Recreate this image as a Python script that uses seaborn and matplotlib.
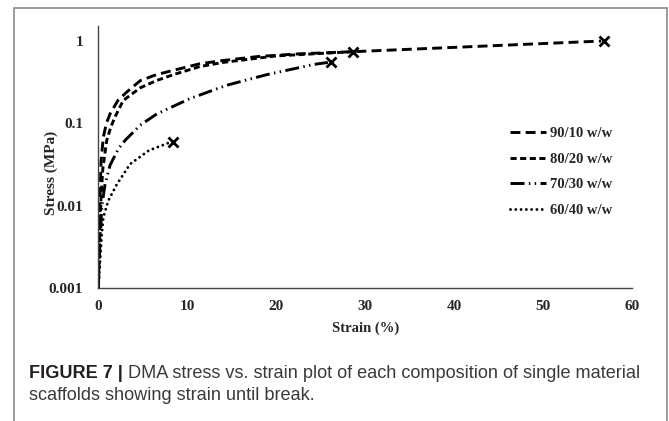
import matplotlib
matplotlib.use('Agg')
import matplotlib.pyplot as plt
from matplotlib.patches import Rectangle
import seaborn as sns

##################################################################################
# data (strain in %, stress in MPa)
##################################################################################
LABELS = ['90/10 w/w', '80/20 w/w', '70/30 w/w', '60/40 w/w']

STRAIN_90 = [0, 0.1, 0.19, 0.3, 0.56, 0.9, 1.31, 2.2, 3.19, 4.7, 6.5, 8.4, 11.4, 14.0,
             18.0, 22.6, 28.3, 56.5]
STRESS_90 = [0.001, 0.004, 0.012, 0.034, 0.068, 0.10, 0.13, 0.19, 0.24, 0.33, 0.39,
             0.44, 0.53, 0.58, 0.65, 0.70, 0.74, 1.0]

STRAIN_80 = [0, 0.15, 0.3, 0.5, 0.94, 1.4, 1.88, 2.8, 4.7, 6.5, 8.4, 11.4, 14.0, 20.0,
             28.3]
STRESS_80 = [0.001, 0.005, 0.012, 0.028, 0.062, 0.09, 0.12, 0.19, 0.27, 0.33, 0.39,
             0.49, 0.55, 0.66, 0.74]

STRAIN_70 = [0, 0.2, 0.4, 0.75, 1.31, 2.25, 3.0, 4.7, 6.56, 10.3, 14.4, 18.9, 24.2,
             25.8]
STRESS_70 = [0.001, 0.004, 0.01, 0.018, 0.031, 0.049, 0.062, 0.095, 0.13, 0.20, 0.29,
             0.39, 0.52, 0.55]

STRAIN_60 = [0, 0.19, 0.38, 0.56, 1.12, 2.06, 3.56, 5.7, 8.1]
STRESS_60 = [0.001, 0.0021, 0.0045, 0.0072, 0.0115, 0.018, 0.032, 0.047, 0.059]

X_TICKS = [0, 10, 20, 30, 40, 50, 60]
Y_TICKS = [0.001, 0.01, 0.1, 1]
Y_TICK_LABELS = ['0.001', '0.01', '0.1', '1']

CAPTION_BOLD = 'FIGURE 7 |'
CAPTION_1 = ' DMA stress vs. strain plot of each composition of single material'
CAPTION_2 = 'scaffolds showing strain until break.'

##################################################################################
# plotting
##################################################################################
sns.set_style('white')
plt.rcParams['font.family'] = ['Liberation Serif', 'DejaVu Serif']

fig = plt.figure(figsize=(6.69, 4.21), dpi=100)
ax = fig.add_axes([0.147, 0.316, 0.798, 0.622])

series = [(STRAIN_90, STRESS_90), (STRAIN_80, STRESS_80),
          (STRAIN_70, STRESS_70), (STRAIN_60, STRESS_60)]
line_styles = [(0, (3.4, 1.8)), (0, (2.1, 1.2)), (0, (4.8, 1.5, 0.5, 1.5, 0.5, 1.5)),
               (0, (0.01, 1.8))]
lw = 2.1

for (sx, sy), lab, ls in zip(series, LABELS, line_styles):
    sns.lineplot(x=sx, y=sy, ax=ax, color='black', linewidth=lw, linestyle=ls,
                 label=lab, dash_capstyle='round' if ls[1][0] < 0.1 else 'butt',
                 sort=False)
    # break point marker
    ax.plot(sx[-1] + 0.3, sy[-1], marker='x', color='black', markersize=6.5,
            markeredgewidth=2.0, linestyle='none')

ax.set_yscale('log')
ax.set_xlim(0, 60)
ax.set_ylim(0.001, 1.52)
ax.set_xticks(X_TICKS)
ax.set_yticks(Y_TICKS)
ax.set_yticklabels(Y_TICK_LABELS)
ax.minorticks_off()

for s in ['top', 'right']:
    ax.spines[s].set_visible(False)
for s in ['left', 'bottom']:
    ax.spines[s].set_color('#444444')
    ax.spines[s].set_linewidth(1.0)

ax.tick_params(axis='x', direction='in', length=4, width=1.0, color='#444444',
               pad=9, labelsize=11)
ax.tick_params(axis='y', length=0, pad=11, labelsize=11)
for t in ax.get_xticklabels() + ax.get_yticklabels():
    t.set_fontweight('bold')

ax.set_xlabel('Strain (%)', fontsize=10.5, fontweight='bold', labelpad=6)
ax.set_ylabel('Stress (MPa)', fontsize=11, fontweight='bold', labelpad=0)
ax.yaxis.set_label_coords(-0.075, 0.44)

leg = ax.legend(loc='upper left', bbox_to_anchor=(0.742, 0.73),
                bbox_transform=fig.transFigure, frameon=False,
                prop={'family': 'Liberation Serif', 'weight': 'bold', 'size': 10.5},
                handlelength=2.5, handletextpad=0.3, labelspacing=0.85)

# outer frame around figure and caption
fig.add_artist(Rectangle((13.5 / 669, -0.02), (667 - 13.5) / 669, 1 - 8 / 421 + 0.02,
                         transform=fig.transFigure, fill=False,
                         edgecolor='#8a8a8a', linewidth=1.2))

cap_size = 13.1
t1 = fig.text(29 / 669, 1 - 373 / 421, CAPTION_BOLD, family='Liberation Sans',
              fontweight='bold', fontsize=cap_size, va='center', color='#231f20')
ax.annotate(CAPTION_1, xy=(1, 0.5), xycoords=t1, va='center', ha='left',
            family='Liberation Sans', fontsize=cap_size, color='#3a3a3a',
            annotation_clip=False)
fig.text(29 / 669, 1 - 395 / 421, CAPTION_2, family='Liberation Sans',
         fontsize=cap_size, va='center', color='#3a3a3a')

plt.savefig('out.png', dpi=100)
